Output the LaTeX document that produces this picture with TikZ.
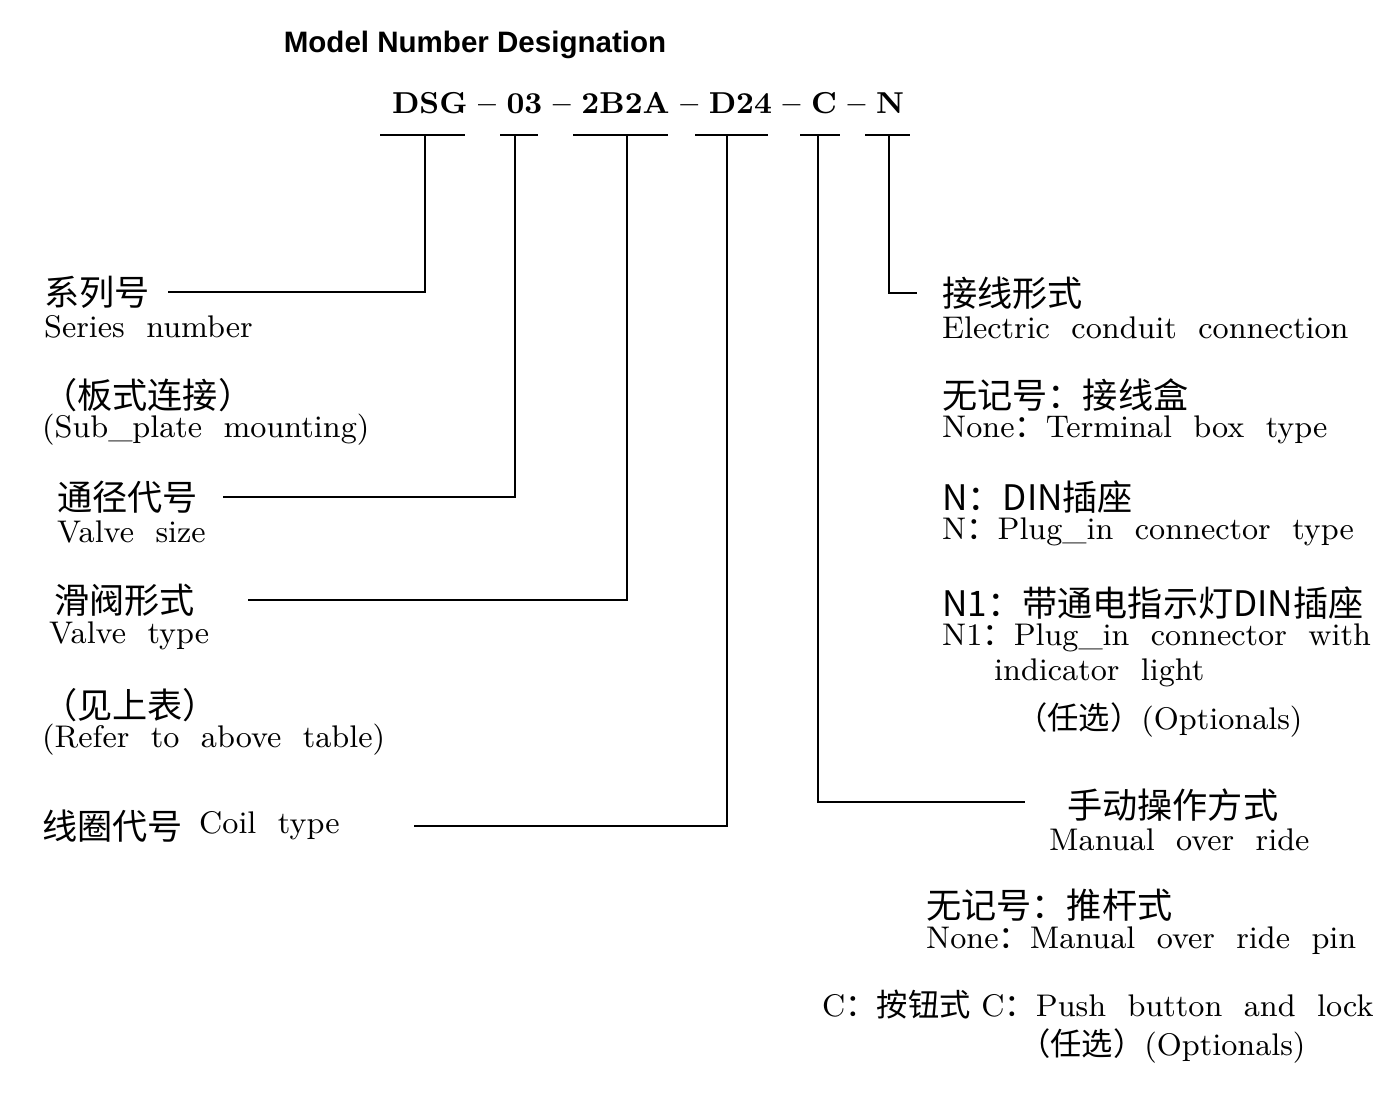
\documentclass[tikz,border=0pt]{standalone}
\usepackage{fontspec}
\newfontfamily\cjk{Noto Sans CJK SC}
\newfontfamily\titlefont{Liberation Sans}
\usetikzlibrary{positioning}
\tikzset{
 lbl/.style={anchor=west, inner sep=1pt, font=\fontsize{8.9}{10}\selectfont},
 zh/.style={lbl, font=\fontsize{10}{11}\selectfont\cjk},
 code/.style={inner sep=0pt, font=\fontsize{8.6}{10}\selectfont\bfseries},
 lead/.style={line width=0.7pt}
}
\newcommand{\dsh}{\hspace{0.35em}--\hspace{0.35em}}
\begin{document}
\begin{tikzpicture}[x=0.01cm, y=-0.01cm]
\useasboundingbox (0,0) rectangle (1400,1114);
\node[inner sep=0pt, font=\fontsize{8.4}{10}\selectfont\titlefont\bfseries] (title) at (475,45) {Model Number Designation};
\node[code] (model) at (648,103) {DSG\dsh 03\dsh 2B2A\dsh D24\dsh C\dsh N};
% underlines
\draw[lead] (380,135) -- (465,135);
\draw[lead] (500,135) -- (538,135);
\draw[lead] (573,135) -- (668,135);
\draw[lead] (695,135) -- (768,135);
\draw[lead] (800,135) -- (840,135);
\draw[lead] (865,135) -- (910,135);
\coordinate (uDSG) at (425,135);
\coordinate (u03) at (515,135);
\coordinate (u2B2A) at (627,135);
\coordinate (uD24) at (727,135);
\coordinate (uC) at (818,135);
\coordinate (uN) at (889,135);
\coordinate (mEnd) at (1025,802);
% left column
\node[zh] (series) at (40,292) {系列号};
\node[lbl] (seriesE) at (40,327) {Series\ \ number};
\node[zh] (plate) at (38,395) {（板式连接）};
\node[lbl] (plateE) at (38,430) {(Sub\_plate\ \ mounting)};
\node[zh] (size) at (53,497) {通径代号};
\node[lbl] (sizeE) at (53,532) {Valve\ \ size};
\node[zh] (type) at (50,600) {滑阀形式};
\node[lbl] (typeE) at (45,636) {Valve\ \ type};
\node[zh] (refer) at (38,705) {（见上表）};
\node[lbl] (referE) at (38,740) {(Refer\ \ to\ \ above\ \ table)};
\node[zh] (coil) at (38,826) {线圈代号};
\node[lbl] (coilE) at (195,826) {Coil\ \ type};
% right column
\node[zh] (wire) at (938,293) {接线形式};
\node[lbl] (wireE) at (938,328) {Electric\ \ conduit\ \ connection};
\node[zh] (none1) at (938,395) {无记号：接线盒};
\node[lbl] (none1E) at (938,430) {None{\cjk ：}Terminal\ \ box\ \ type};
\node[zh] (n) at (938,497) {N：DIN插座};
\node[lbl] (nE) at (938,532) {N{\cjk ：}Plug\_in\ \ connector\ \ type};
\node[zh] (n1) at (938,603) {N1：带通电指示灯DIN插座};
\node[lbl] (n1E) at (938,638) {N1{\cjk ：}Plug\_in\ \ connector\ \ with};
\node[lbl] (n1E2) at (990,673) {indicator\ \ light};
\node[lbl] (opt1) at (1012,720) {{\cjk （任选）}(Optionals)};
\node[zh] (manual) at (1063,805) {手动操作方式};
\node[lbl] (manualE) at (1045,840) {Manual\ \ over\ \ ride};
\node[zh] (none2) at (922,905) {无记号：推杆式};
\node[lbl] (none2E) at (922,941) {None{\cjk ：}Manual\ \ over\ \ ride\ \ pin};
\node[lbl] (push) at (818,1005) {C{\cjk ：按钮式}\ C{\cjk ：}Push\ \ button\ \ and\ \ lock};
\node[lbl] (opt2) at (1015,1046) {{\cjk （任选）}(Optionals)};
% leaders
\draw[lead] (uDSG) |- ([xshift=4]series.east);
\draw[lead] (u03) |- ([xshift=6]size.east);
\draw[lead] (u2B2A) |- ([xshift=14]type.east);
\draw[lead] (uD24) |- ([xshift=20]coilE.east);
\draw[lead] (uC) |- (mEnd);
\draw[lead] (uN) |- ([xshift=-6]wire.west);
\end{tikzpicture}
\end{document}
